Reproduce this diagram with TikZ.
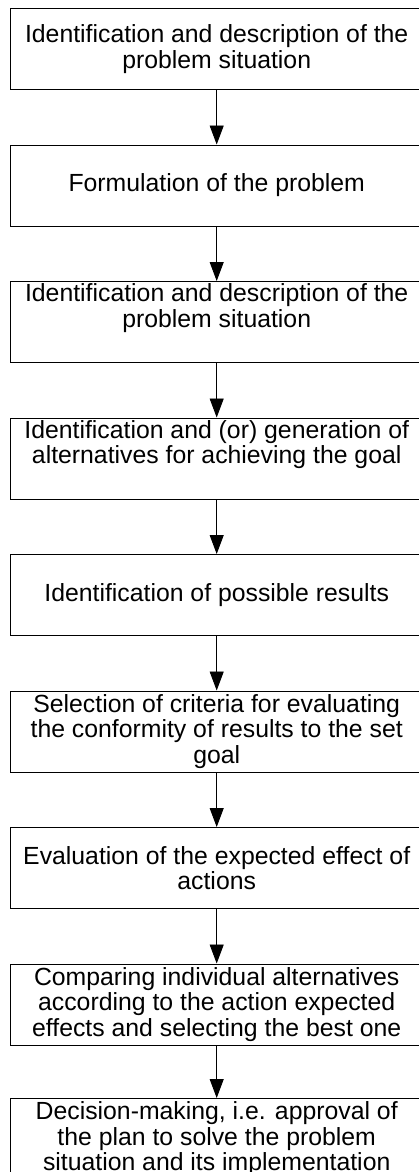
\documentclass[tikz,border=0pt]{standalone}
\usepackage{fontspec}
\setmainfont{Liberation Sans}
\usetikzlibrary{positioning,arrows.meta}

\begin{document}
\begin{tikzpicture}[x=1pt,y=1pt]

        \useasboundingbox (0,0) rectangle (419,-1172);
        \clip (0,0) rectangle (419,-1172);

        \begin{scope}[every node/.style={draw,line width=1pt,minimum width=413.4pt,minimum height=81pt,inner sep=2pt,align=center,font=\fontsize{24.8}{25.5}\selectfont},node distance=54.5pt]
          \node (1) at (216.7,-49) {Identification and description of the\\problem situation};
          \node (2) [below=of 1] {Formulation of the problem};
          \node (3) [below=of 2] {Identification and description of the\\problem situation\\\strut};
          \node (4) [below=of 3] {Identification and (or) generation of\\alternatives for achieving the goal\\\strut};
          \node (5) [below=of 4] {Identification of possible results};
          \node (6) [below=of 5] {Selection of criteria for evaluating\\the conformity of results to the set\\goal};
          \node (7) [below=of 6] {Evaluation of the expected effect of\\actions};
          \node (8) [below=of 7] {Comparing individual alternatives\\according to the action expected\\effects and selecting the best one};
          \node (9) [below=52.5pt of 8] {Decision-making, i.e. approval of\\the plan to solve the problem\\situation and its implementation};
        \end{scope}

        \begin{scope}[every edge/.style={draw,line width=0.9pt,-{Triangle[length=19pt,width=14pt]}}]
          \path (1) edge (2);
          \path (2) edge (3);
          \path (3) edge (4);
          \path (4) edge (5);
          \path (5) edge (6);
          \path (6) edge (7);
          \path (7) edge (8);
          \path (8) edge (9);
        \end{scope}

      \end{tikzpicture}
\end{document}
